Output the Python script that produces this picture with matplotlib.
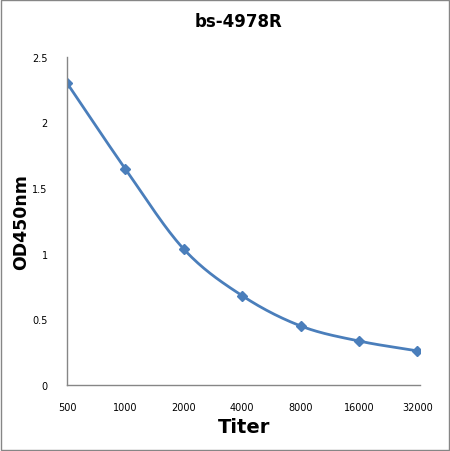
import numpy as np
import matplotlib
matplotlib.use("Agg")
import matplotlib.pyplot as plt
from matplotlib.patches import Rectangle

titers = ["500", "1000", "2000", "4000", "8000", "16000", "32000"]
od450 = [2.30, 1.645, 1.035, 0.68, 0.45, 0.335, 0.26]
yticks = [0, 0.5, 1, 1.5, 2, 2.5]
ytick_labels = ["0", "0.5", "1", "1.5", "2", "2.5"]

line_color = "#4a7ebb"


def smooth(x, y, n=30):
    # Catmull-Rom style smoothing, like the spreadsheet "smoothed line"
    x = np.asarray(x, float)
    y = np.asarray(y, float)
    px = np.concatenate([[2 * x[0] - x[1]], x, [2 * x[-1] - x[-2]]])
    py = np.concatenate([[2 * y[0] - y[1]], y, [2 * y[-1] - y[-2]]])
    xs, ys = [], []
    t = np.linspace(0, 1, n)
    for i in range(1, len(px) - 2):
        for arr, out in ((px, xs), (py, ys)):
            p0, p1, p2, p3 = arr[i - 1:i + 3]
            out.extend(0.5 * ((2 * p1) + (-p0 + p2) * t
                              + (2 * p0 - 5 * p1 + 4 * p2 - p3) * t ** 2
                              + (-p0 + 3 * p1 - 3 * p2 + p3) * t ** 3))
    return np.array(xs), np.array(ys)


fig = plt.figure(figsize=(4.5, 4.52), dpi=100)
ax = fig.add_axes([0.149, 0.146, 0.785, 0.726])

pos = np.arange(len(titers))
sx, sy = smooth(pos, od450)
ax.plot(sx, sy, color=line_color, lw=2)
ax.plot(pos, od450, linestyle="none", marker="D", ms=5, color=line_color)

ax.set_xlim(0, len(titers) - 1 + 0.05)
ax.set_ylim(0, 2.5)
ax.set_xticks(pos)
ax.set_xticklabels(titers)
ax.set_yticks(yticks)
ax.set_yticklabels(ytick_labels)
ax.tick_params(length=0, labelsize=7, pad=12)
ax.tick_params(axis="y", pad=14)
for side in ("top", "right"):
    ax.spines[side].set_visible(False)
for side in ("left", "bottom"):
    ax.spines[side].set_color("#868686")
    ax.spines[side].set_linewidth(1)

ax.set_xlabel("Titer", fontsize=14, fontweight="bold", labelpad=4)
ax.set_ylabel("OD450nm", fontsize=12.5, fontweight="bold")
ax.yaxis.set_label_coords(-0.105, 0.5)
fig.text(0.53, 0.952, "bs-4978R", ha="center", va="center",
         fontsize=12, fontweight="bold")

fig.patches.append(Rectangle((0.002, 0.002), 0.995, 0.995, transform=fig.transFigure,
                             fill=False, edgecolor="#868686", lw=1))

fig.savefig("out.png", dpi=100)
